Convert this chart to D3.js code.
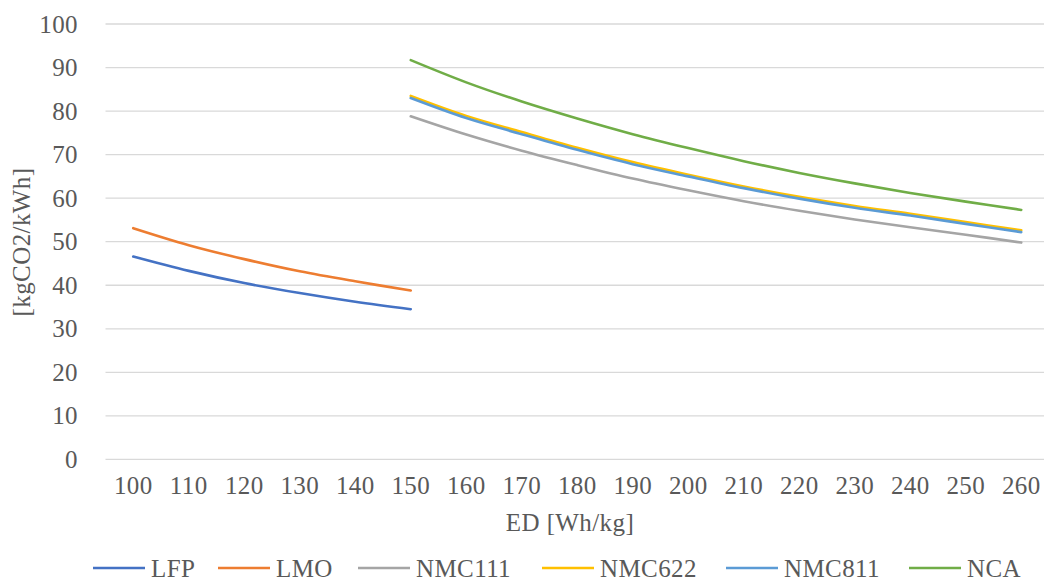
<!DOCTYPE html>
<html>
<head>
<meta charset="utf-8">
<script src="https://cdn.jsdelivr.net/npm/d3@7"></script>
<style>
  html, body { margin: 0; padding: 0; background: #fff; }
  svg { display: block; }
</style>
</head>
<body>
<svg id="chart" width="1044" height="582"></svg>
<script>
// Energy density categories [Wh/kg]
const categories = [100, 110, 120, 130, 140, 150, 160, 170, 180, 190, 200, 210, 220, 230, 240, 250, 260];

// Emission intensity [kgCO2/kWh] per chemistry, one value per energy density
const edLow  = [100, 110, 120, 130, 140, 150];
const edHigh = [150, 160, 170, 180, 190, 200, 210, 220, 230, 240, 250, 260];

const lfp    = [46.6, 43.3, 40.5, 38.2, 36.2, 34.5];
const lmo    = [53.1, 49.2, 46.0, 43.2, 40.9, 38.8];
const nmc111 = [78.8, 74.6, 70.9, 67.6, 64.5, 61.8, 59.3, 57.1, 55.1, 53.3, 51.6, 49.8];
const nmc622 = [83.5, 78.9, 75.2, 71.6, 68.3, 65.4, 62.7, 60.3, 58.2, 56.4, 54.5, 52.6];
const nmc811 = [83.0, 78.4, 74.7, 71.1, 67.8, 65.0, 62.3, 59.9, 57.8, 56.0, 54.1, 52.2];
const nca    = [91.7, 86.6, 82.2, 78.3, 74.7, 71.5, 68.5, 65.8, 63.4, 61.2, 59.2, 57.3];

const yTicks = [0, 10, 20, 30, 40, 50, 60, 70, 80, 90, 100];

const series = [
  { name: "LFP",    x: edLow,  y: lfp,    color: "#4472C4" },
  { name: "LMO",    x: edLow,  y: lmo,    color: "#ED7D31" },
  { name: "NMC111", x: edHigh, y: nmc111, color: "#A5A5A5" },
  { name: "NMC622", x: edHigh, y: nmc622, color: "#FFC000" },
  { name: "NMC811", x: edHigh, y: nmc811, color: "#5B9BD5" },
  { name: "NCA",    x: edHigh, y: nca,    color: "#70AD47" }
];

const FONT = "'Liberation Serif', 'DejaVu Serif', serif";
const fontSize = 25;
const textColor = "#595959";

const svg = d3.select("#chart")
  .attr("font-family", FONT);

const x = d3.scaleBand().domain(categories).range([105.5, 1049]);
const y = d3.scaleLinear().domain([0, 100]).range([459.4, 24]);
const cx = d => x(d) + x.bandwidth() / 2;

function styleText(sel) {
  sel.attr("font-family", FONT)
    .attr("font-size", fontSize)
    .attr("letter-spacing", 0.4)
    .attr("fill", textColor);
}

// Horizontal gridlines
svg.append("g")
  .selectAll("line")
  .data(yTicks)
  .join("line")
  .attr("x1", 105.5).attr("x2", 1049)
  .attr("y1", d => y(d)).attr("y2", d => y(d))
  .attr("stroke", "#d9d9d9").attr("stroke-width", 1.3);

// Y axis labels
const yAxis = svg.append("g")
  .attr("transform", "translate(87,0)")
  .call(d3.axisLeft(y).tickValues(yTicks).tickSize(0).tickPadding(9));
yAxis.attr("font-family", FONT);
yAxis.select(".domain").remove();
yAxis.selectAll("text").call(styleText);

// X axis labels
const xAxis = svg.append("g")
  .attr("transform", "translate(0,470)")
  .call(d3.axisBottom(x).tickSize(0).tickPadding(6));
xAxis.attr("font-family", FONT);
xAxis.select(".domain").remove();
xAxis.selectAll("text").call(styleText);

// Axis titles
svg.append("text")
  .attr("x", 570).attr("y", 531)
  .attr("text-anchor", "middle")
  .call(styleText)
  .text("ED [Wh/kg]");

svg.append("text")
  .attr("transform", "translate(30,242) rotate(-90)")
  .attr("text-anchor", "middle")
  .call(styleText)
  .text("[kgCO2/kWh]");

// Smoothed series lines
const line = d3.line()
  .x(d => cx(d[0]))
  .y(d => y(d[1]))
  .curve(d3.curveCatmullRom.alpha(0.5));

svg.append("g")
  .selectAll("path")
  .data(series)
  .join("path")
  .attr("d", s => line(s.x.map((v, i) => [v, s.y[i]])))
  .attr("fill", "none")
  .attr("stroke", s => s.color)
  .attr("stroke-width", 2.6)
  .attr("stroke-linecap", "round")
  .attr("stroke-linejoin", "round");

// Legend: swatch line followed by the series name
const legendX = [93, 218, 358, 542, 726, 909];
const swatch = 52, swGap = 6, legendY = 568;
series.forEach((s, i) => {
  const g = svg.append("g").attr("transform", `translate(${legendX[i]},0)`);
  g.append("line")
    .attr("x1", 0).attr("x2", swatch)
    .attr("y1", legendY).attr("y2", legendY)
    .attr("stroke", s.color).attr("stroke-width", 2.6);
  g.append("text")
    .attr("x", swatch + swGap).attr("y", legendY)
    .attr("dy", "0.35em")
    .call(styleText)
    .text(s.name);
});
</script>
</body>
</html>
